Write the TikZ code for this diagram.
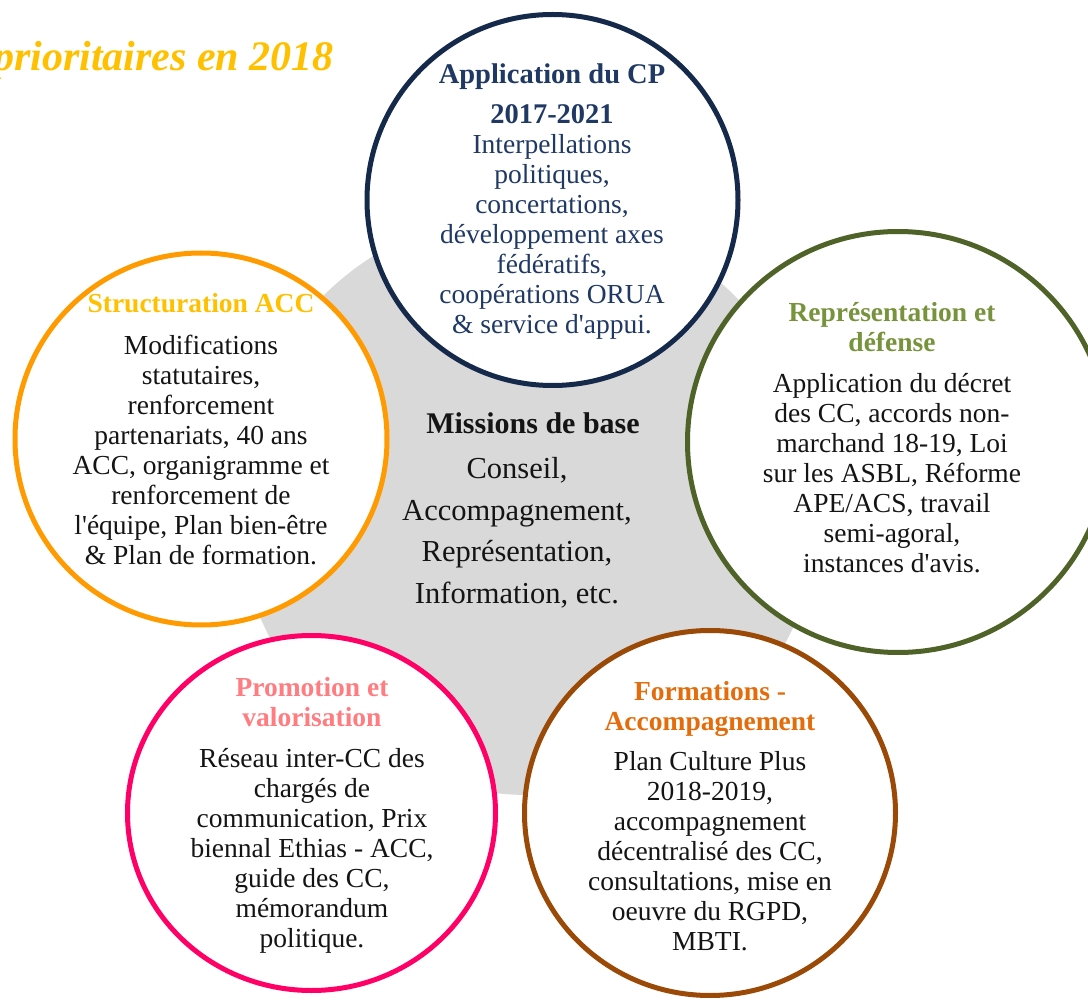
\documentclass[tikz,border=0pt]{standalone}
\usepackage{fontspec}
\setmainfont{Liberation Serif}
\usetikzlibrary{shapes.geometric}

\definecolor{hubgray}{HTML}{D9D9D9}
\definecolor{navyring}{HTML}{15294B}
\definecolor{navytext}{HTML}{1F3864}
\definecolor{orangering}{HTML}{FF9B00}
\definecolor{goldtext}{HTML}{FFC000}
\definecolor{greenring}{HTML}{4F6228}
\definecolor{greentext}{HTML}{77933C}
\definecolor{pinkring}{HTML}{FF0066}
\definecolor{pinktext}{HTML}{FF7C80}
\definecolor{brownring}{HTML}{9A4A06}
\definecolor{browntext}{HTML}{E46C0A}
\definecolor{bodytext}{HTML}{141414}

\newcommand{\apo}{\textquotesingle}

\begin{document}
\begin{tikzpicture}[x=1pt, y=-1pt,
  ring/.style={circle, draw=#1, line width=5pt, fill=white, inner sep=0pt},
  oval/.style={ellipse, draw=#1, line width=5pt, fill=white, inner sep=0pt},
  % multi-line blocks are placed by the baseline of their last line
  blurb/.style={anchor=base, align=center, inner sep=0pt, text=bodytext,
                font=\fontsize{27.5}{30}\selectfont},
  hubtext/.style={anchor=base, align=center, inner sep=0pt, text=bodytext,
                font=\fontsize{30.5}{41.5}\selectfont}]

\useasboundingbox (0,0) rectangle (1088,1000);

% central disc
\fill[hubgray] (529,503) circle (292);

% title, partly cut by the left edge
\node[anchor=base east, inner sep=0pt, text=goldtext,
      font=\fontsize{42}{50}\selectfont\bfseries\itshape] (title) at (334,71)
  {prioritaires en 2018};

% the five themed circles
\node[ring=navyring,   minimum size=371pt] (cp)    at (552.5,200) {};
\node[ring=orangering, minimum size=372pt] (acc)   at (201,439) {};
\node[ring=greenring,  minimum size=421pt] (repr)  at (898,442) {};
\node[oval=pinkring,   minimum width=368pt, minimum height=355pt] (promo) at (311.5,813) {};
\node[oval=brownring,  minimum width=371pt, minimum height=365pt] (form)  at (710,813) {};

% texts of the circles
\node[blurb, text=navytext] (cp-text) at (552,334)
  {{\fontsize{28.5}{30}\selectfont\bfseries Application du CP}\\[10pt]
   {\fontsize{28.5}{30}\selectfont\bfseries 2017-2021}\\
   Interpellations\\ politiques,\\ concertations,\\
   développement axes\\ fédératifs,\\ coopérations ORUA\\
   \& service d\apo appui.};

\node[blurb] (acc-text) at (201,564)
  {{\bfseries\color{goldtext}Structuration ACC}\\[12pt]
   Modifications\\ statutaires,\\ renforcement\\
   partenariats, 40 ans\\ ACC, organigramme et\\
   renforcement de\\ l\apo équipe, Plan bien-être\\
   \& Plan de formation.};

\node[blurb] (repr-text) at (892,572)
  {{\bfseries\color{greentext}Représentation et}\\
   {\bfseries\color{greentext}défense}\\[11pt]
   Application du décret\\ des CC, accords non-\\
   marchand 18-19, Loi\\ sur les ASBL, Réforme\\
   APE/ACS, travail\\ semi-agoral,\\ instances d\apo avis.};

\node[blurb] (promo-text) at (312,947)
  {{\bfseries\color{pinktext}Promotion et}\\
   {\bfseries\color{pinktext}valorisation}\\[11pt]
   Réseau inter-CC des\\ chargés de\\ communication, Prix\\
   biennal Ethias - ACC,\\ guide des CC,\\ mémorandum\\ politique.};

\node[blurb] (form-text) at (710,950)
  {{\bfseries\color{browntext}Formations -}\\
   {\bfseries\color{browntext}Accompagnement}\\[10pt]
   Plan Culture Plus\\ 2018-2019,\\ accompagnement\\
   décentralisé des CC,\\ consultations, mise en\\
   oeuvre du RGPD,\\ MBTI.};

% text of the central disc
\node[anchor=base, inner sep=0pt, text=bodytext,
      font=\fontsize{30}{36}\selectfont\bfseries] (hub-title) at (533,434)
  {Missions de base};
\node[hubtext] (hub-text) at (517,603)
  {Conseil,\\ Accompagnement,\\ Représentation,\\ Information, etc.};

\end{tikzpicture}
\end{document}
